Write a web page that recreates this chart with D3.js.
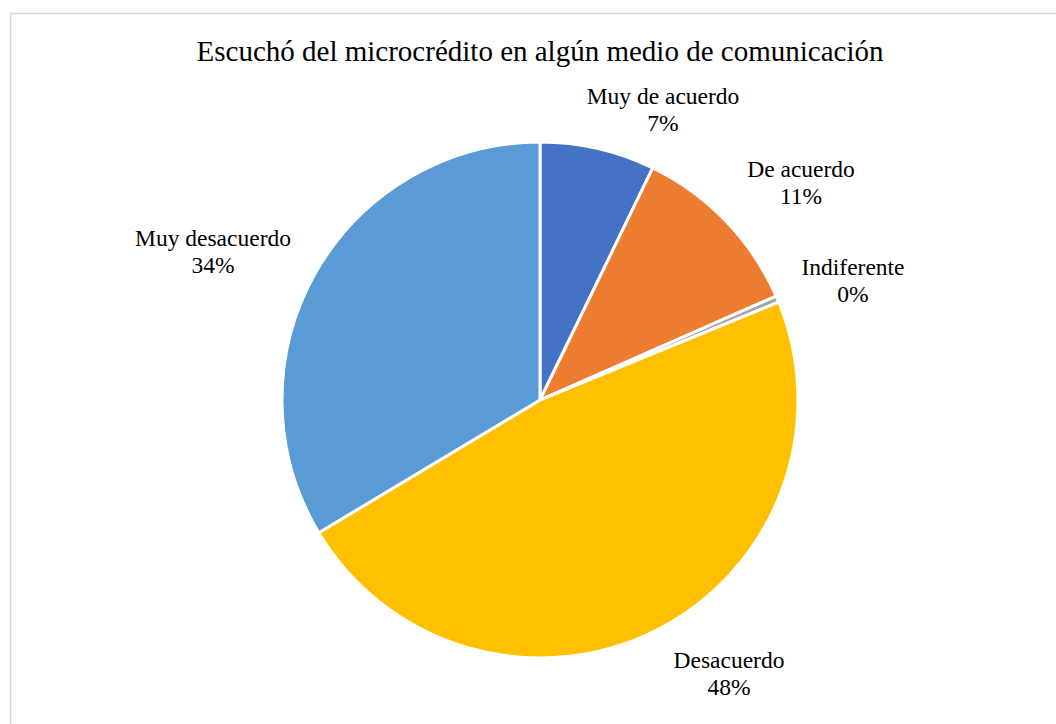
<!DOCTYPE html>
<html><head><meta charset="utf-8">
<script src="https://cdn.jsdelivr.net/npm/d3@7"></script>
<style>html,body{margin:0;padding:0;background:#fff;overflow:hidden}</style>
</head><body>
<svg id="chart" width="1056" height="724"></svg>
<script>
const title = "Escuchó del microcrédito en algún medio de comunicación";
const categories = ["Muy de acuerdo", "De acuerdo", "Indiferente", "Desacuerdo", "Muy desacuerdo"];
const counts = [18, 28, 1, 119, 84];
const percentLabels = ["7%", "11%", "0%", "48%", "34%"];
const colors = ["#4472C4", "#ED7D31", "#A5A5A5", "#FFC000", "#5B9BD5"];

// layout (label anchor centres)
const labelLayout = [[663, 104], [801, 177], [853, 275], [729, 668], [213, 246]];

const svg = d3.select("#chart");
svg.append("rect").attr("x", 10.5).attr("y", 13.5).attr("width", 1200).attr("height", 900)
  .attr("fill", "#fff").attr("stroke", "#D9D9D9").attr("stroke-width", 1.5);

svg.append("text").attr("x", 540).attr("y", 61).attr("text-anchor", "middle")
  .attr("font-family", "'Liberation Serif', 'Times New Roman', serif").attr("font-size", 29)
  .attr("fill", "#000").text(title);

const cx = 540, cy = 400, r = 258;
const pie = d3.pie().sort(null).value(d => d)(counts);
const arc = d3.arc().innerRadius(0).outerRadius(r);
const g = svg.append("g").attr("transform", `translate(${cx},${cy})`);
g.selectAll("path").data(pie).join("path")
  .attr("d", arc).attr("fill", (d, i) => colors[i])
  .attr("stroke", "#fff").attr("stroke-width", 3).attr("stroke-linejoin", "round");

const lab = svg.append("g").attr("font-family", "'Liberation Serif', 'Times New Roman', serif")
  .attr("font-size", 23.5).attr("fill", "#000").attr("text-anchor", "middle");
categories.forEach((c, i) => {
  const [x, y] = labelLayout[i];
  lab.append("text").attr("x", x).attr("y", y).text(c);
  lab.append("text").attr("x", x).attr("y", y + 27).text(percentLabels[i]);
});
</script>
</body></html>
